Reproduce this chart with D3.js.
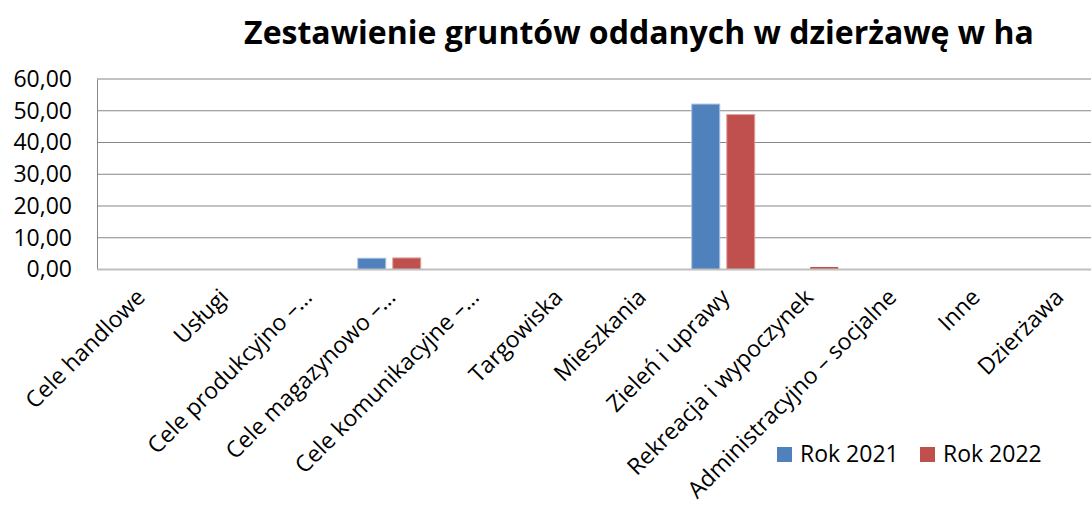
<!DOCTYPE html>
<html>
<head>
<meta charset="utf-8">
<script src="https://cdn.jsdelivr.net/npm/d3@7"></script>
<style>
  body { margin: 0; background: #fff; }
  text { font-family: "Open Sans", sans-serif; fill: #000; }
</style>
</head>
<body>
<div id="chart"></div>
<script>
// dane
const categories = ["Cele handlowe", "Usługi", "Cele produkcyjno –…", "Cele magazynowo –…",
  "Cele komunikacyjne –…", "Targowiska", "Mieszkania", "Zieleń i uprawy",
  "Rekreacja i wypoczynek", "Administracyjno – socjalne", "Inne", "Dzierżawa"];
const seriesNames = ["Rok 2021", "Rok 2022"];
const rok2021 = [0.1, 0.1, 0, 3.55, 0, 0.1, 0, 52.1, 0.1, 0, 0.1, 0.1];
const rok2022 = [0.1, 0.1, 0, 3.65, 0, 0.1, 0, 48.8, 0.8, 0, 0.1, 0.1];
const yTicks = [0, 10, 20, 30, 40, 50, 60];
const colors = ["#4F81BD", "#C0504D"];

const width = 1091, height = 506;
const plotLeft = 97, plotRight = 1099, plotTop = 79, plotBottom = 269.5;

const pl = d3.formatLocale({ decimal: ",", thousands: " ", grouping: [3], currency: ["", " zł"] });
const fmt = pl.format(".2f");

const svg = d3.select("#chart").append("svg")
  .attr("width", width)
  .attr("height", height);

const x0 = d3.scaleBand().domain(categories).range([plotLeft, plotRight]).padding(0);
const x1 = d3.scaleBand().domain(seriesNames).range([0, x0.bandwidth()])
  .paddingInner(0.2).paddingOuter(0.293);
const y = d3.scaleLinear().domain([0, 60]).range([plotBottom, plotTop]);

// tytuł
svg.append("text")
  .attr("x", 639)
  .attr("y", 44)
  .attr("text-anchor", "middle")
  .style("font-weight", "bold")
  .style("font-size", "32px")
  .text("Zestawienie gruntów oddanych w dzierżawę w ha");

// linie siatki
svg.append("g")
  .selectAll("line")
  .data(yTicks.filter(d => d > 0))
  .enter()
  .append("line")
  .attr("x1", plotLeft)
  .attr("x2", width)
  .attr("y1", d => y(d))
  .attr("y2", d => y(d))
  .attr("stroke", "#868686")
  .attr("stroke-width", 1);

// oś Y
const yAxis = svg.append("g")
  .attr("transform", "translate(" + plotLeft + ",0)")
  .call(d3.axisLeft(y).tickValues(yTicks).tickFormat(fmt).tickSize(0).tickPadding(25));
yAxis.select(".domain").attr("stroke", "#868686");
yAxis.selectAll("text")
  .style("font-size", "23px")
  .style("font-family", "'Open Sans', sans-serif");

// słupki
const groups = svg.append("g")
  .selectAll("g")
  .data(categories)
  .enter()
  .append("g")
  .attr("transform", d => "translate(" + x0(d) + ",0)");

groups.selectAll("rect")
  .data((d, i) => [rok2021[i], rok2022[i]].map((v, k) => ({ key: seriesNames[k], value: v, k: k })))
  .enter()
  .append("rect")
  .attr("x", d => x1(d.key))
  .attr("y", d => y(d.value))
  .attr("width", x1.bandwidth())
  .attr("height", d => y(0) - y(d.value))
  .attr("fill", d => colors[d.k])
  .attr("stroke", d => d.value > 1 ? (d.k === 0 ? "#a9c0de" : "#e0a3a1") : "none")
  .attr("stroke-width", 1);

// oś X
const xAxis = svg.append("g")
  .attr("transform", "translate(0," + plotBottom + ")")
  .call(d3.axisBottom(x0).tickSize(0).tickFormat(""));
xAxis.select(".domain")
  .attr("stroke", "#BFBFBF")
  .attr("stroke-width", 2)
  .attr("d", "M" + plotLeft + ",0H" + width);

// etykiety kategorii
svg.append("g")
  .selectAll("text")
  .data(categories)
  .enter()
  .append("text")
  .attr("text-anchor", "end")
  .attr("transform", d => "translate(" + (x0(d) + x0.bandwidth() / 2 + 2) + "," + 293 + ") rotate(-45)")
  .attr("dy", "0.35em")
  .style("font-size", "23px")
  .text(d => d);

// legenda
const legend = svg.append("g")
  .selectAll("g")
  .data(seriesNames)
  .enter()
  .append("g")
  .attr("transform", (d, i) => "translate(" + (777 + i * 143) + ",447)");
legend.append("rect")
  .attr("width", 15)
  .attr("height", 15)
  .attr("fill", (d, i) => colors[i]);
legend.append("text")
  .attr("x", 23)
  .attr("y", 15)
  .style("font-size", "23px")
  .text(d => d);
</script>
</body>
</html>
